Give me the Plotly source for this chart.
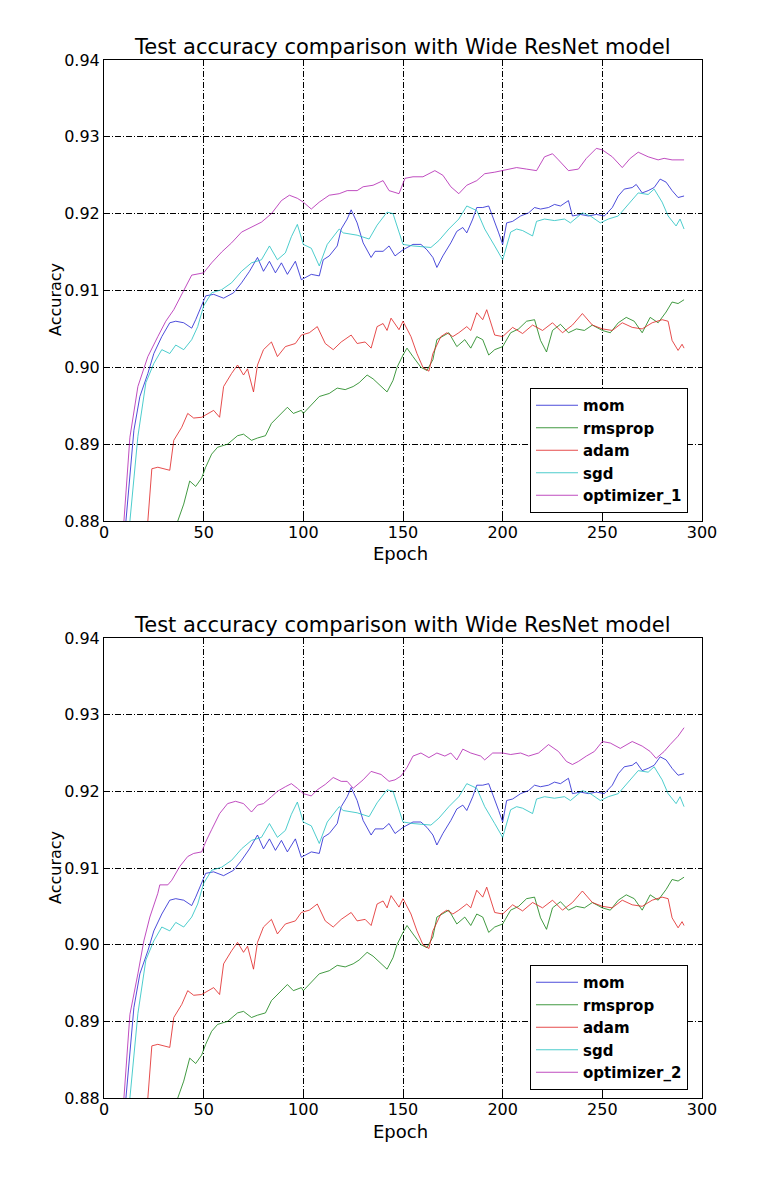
import plotly.graph_objects as go

# ---------------- data ----------------
mom_epoch = [11, 15, 18, 22, 25, 29, 33, 36, 40, 44, 46, 49, 51, 55, 60, 65, 69, 73, 77, 80, 83, 86, 89, 92, 96, 99,
             104, 108, 110, 113, 117, 119, 122, 124, 127, 130, 134, 136, 140, 143, 146, 150, 155, 159, 162, 165, 167,
             170, 174, 177, 180, 182, 185, 187, 190, 193, 195, 198, 200, 202, 205, 209, 213, 216, 219, 223, 226, 229,
             233, 235, 239, 243, 247, 251, 255, 258, 261, 265, 267, 270, 273, 276, 279, 282, 285, 288, 291]
mom_acc = [0.880, 0.8918, 0.8962, 0.8992, 0.9018, 0.904, 0.9058, 0.906, 0.9058, 0.9051, 0.9062, 0.908, 0.9093, 0.9095,
           0.909, 0.9097, 0.911, 0.9125, 0.9143, 0.9125, 0.9138, 0.9123, 0.9136, 0.9121, 0.9138, 0.9114,
           0.9121, 0.9119, 0.914, 0.9145, 0.9158, 0.918, 0.9193, 0.9205, 0.9188, 0.9162, 0.9143, 0.9151, 0.9151,
           0.9158, 0.9145, 0.9153, 0.916, 0.916, 0.9153, 0.9143, 0.913, 0.9145, 0.9162, 0.9177, 0.9182, 0.9175,
           0.9193, 0.9208, 0.9208, 0.921, 0.9197, 0.9175, 0.916, 0.9188, 0.919, 0.9197, 0.9201, 0.9208, 0.9206,
           0.9208, 0.9212, 0.921, 0.9217, 0.9197, 0.9199, 0.9197, 0.9199, 0.9197, 0.9208, 0.9223, 0.9232, 0.9234,
           0.9238, 0.9227, 0.923, 0.9234, 0.9245, 0.9241, 0.923, 0.9221, 0.9223]

rmsprop_epoch = [37, 40, 43, 46, 49, 51, 54, 57, 62, 67, 70, 74, 77, 81, 84, 87, 92, 95, 99, 100, 105, 108, 113, 117,
                 121, 125, 128, 132, 135, 139, 142, 145, 147, 150, 152, 155, 159, 162, 165, 167, 170, 173, 177, 181,
                 184, 187, 190, 193, 196, 200, 204, 208, 212, 216, 219, 222, 225, 229, 233, 237, 241, 245, 250, 254,
                 258, 262, 266, 270, 274, 278, 282, 285, 288, 291]
rmsprop_acc = [0.880, 0.8822, 0.8852, 0.8845, 0.8856, 0.887, 0.8887, 0.8896, 0.890, 0.8911, 0.8913, 0.8905, 0.8908,
               0.8911, 0.8927, 0.8935, 0.8948, 0.894, 0.8944, 0.894, 0.8953, 0.8962, 0.8966, 0.8973, 0.8971, 0.8975,
               0.898, 0.899, 0.8985, 0.8975, 0.8968, 0.8983, 0.900, 0.9016, 0.9025, 0.9014, 0.900, 0.8996, 0.901,
               0.9036, 0.904, 0.9045, 0.9027, 0.9036, 0.9025, 0.904, 0.9036, 0.9016, 0.9023, 0.9027, 0.9045, 0.905,
               0.906, 0.9062, 0.9035, 0.902, 0.9048, 0.9056, 0.9045, 0.905, 0.9048, 0.9055, 0.9048, 0.9045, 0.9058,
               0.9065, 0.906, 0.9045, 0.9065, 0.9058, 0.9072, 0.9085, 0.9083, 0.9088]

adam_epoch = [22, 24, 27, 33, 35, 39, 42, 45, 49, 52, 55, 58, 60, 64, 67, 70, 72, 75, 77, 80, 84, 87, 91, 96, 99,
              103, 107, 111, 115, 119, 124, 127, 131, 134, 137, 140, 142, 144, 148, 150, 154, 157, 160, 163, 165,
              169, 172, 175, 178, 182, 184, 187, 190, 192, 194, 196, 200, 205, 210, 215, 220, 225, 230, 235, 240,
              245, 250, 255, 260, 265, 270, 275, 280, 283, 285, 288, 290, 291]
adam_acc = [0.880, 0.8868, 0.887, 0.8866, 0.8905, 0.8922, 0.894, 0.8934, 0.8935, 0.894, 0.8944, 0.8935, 0.8975, 0.8992,
            0.9003, 0.899, 0.8998, 0.8968, 0.9003, 0.9023, 0.9033, 0.9014, 0.9027, 0.9031, 0.9042,
            0.9045, 0.9053, 0.9031, 0.9023, 0.9033, 0.9042, 0.9031, 0.9033, 0.9025, 0.9053, 0.9057, 0.9048, 0.9064,
            0.9049, 0.906, 0.904, 0.9018, 0.900, 0.8995, 0.9018, 0.904, 0.9045, 0.904, 0.9045, 0.9053, 0.9048,
            0.9071, 0.9062, 0.9075, 0.9058, 0.9042, 0.904, 0.9052, 0.9044, 0.9055, 0.9048, 0.9058, 0.9045, 0.9055,
            0.907, 0.9055, 0.905, 0.9048, 0.9058, 0.9052, 0.905, 0.9058, 0.9062, 0.906, 0.9035, 0.9022, 0.903, 0.9025]

sgd_epoch = [13, 17, 21, 25, 29, 33, 36, 40, 44, 47, 50, 54, 59, 64, 69, 74, 79, 83, 87, 91, 94, 97, 100, 104, 108,
             112, 118, 120, 127, 133, 137, 142, 145, 150, 155, 164, 168, 173, 178, 182, 187, 191, 196, 200, 201, 204,
             207, 210, 215, 217, 221, 226, 231, 234, 240, 244, 249, 253, 258, 263, 268, 273, 276, 280, 283, 287, 289,
             291]
sgd_acc = [0.880, 0.891, 0.898, 0.9005, 0.9023, 0.9018, 0.9029, 0.9023, 0.9036, 0.9053, 0.908, 0.9097, 0.9101, 0.911,
           0.9125, 0.9136, 0.914, 0.9158, 0.914, 0.9149, 0.917, 0.9186, 0.916, 0.9155, 0.9132, 0.916, 0.918, 0.9175,
           0.9172, 0.9167, 0.9185, 0.9202, 0.920, 0.916, 0.9158, 0.9156, 0.9165, 0.918, 0.9193, 0.921, 0.9204, 0.918,
           0.9158, 0.914, 0.9149, 0.9176, 0.918, 0.9178, 0.9171, 0.919, 0.9193, 0.9191, 0.9193, 0.9188, 0.9201,
           0.9197, 0.9188, 0.9193, 0.9197, 0.9212, 0.9227, 0.9225, 0.9232, 0.9215, 0.9197, 0.9184, 0.9193, 0.918]

opt1_epoch = [10, 13, 17, 22, 27, 31, 35, 41, 44, 50, 54, 59, 64, 69, 74, 79, 84, 89, 93, 97, 100, 104, 108, 113, 118,
              122, 127, 130, 135, 140, 143, 148, 151, 155, 160, 166, 170, 174, 178, 182, 187, 191, 196, 200, 207, 212,
              217, 221, 225, 228, 233, 238, 242, 247, 250, 255, 260, 264, 268, 273, 278, 281, 285, 291]
opt1_acc = [0.880, 0.8909, 0.8975, 0.9014, 0.904, 0.906, 0.9075, 0.9104, 0.912, 0.9123, 0.9136, 0.915, 0.9162, 0.9176,
            0.9182, 0.9189, 0.920, 0.9217, 0.9224, 0.922, 0.9215, 0.9206, 0.9215, 0.9224, 0.9226, 0.923, 0.923,
            0.9235, 0.9237, 0.9243, 0.923, 0.9226, 0.9246, 0.9248, 0.9248, 0.9256, 0.925, 0.9235, 0.9226, 0.9237,
            0.9243, 0.9252, 0.9254, 0.9256, 0.926, 0.9258, 0.9256, 0.9274, 0.9278, 0.927, 0.9256, 0.9258, 0.9272,
            0.9285, 0.9283, 0.9274, 0.926, 0.9272, 0.928, 0.9274, 0.927, 0.9272, 0.927, 0.927]

opt2_epoch = [10, 13, 17, 20, 23, 27, 28, 32, 34, 38, 42, 45, 49, 51, 54, 58, 62, 66, 70, 74, 77, 80, 84, 87, 91, 94,
              97, 100, 104, 107, 111, 115, 119, 122, 125, 130, 134, 139, 143, 146, 149, 152, 155, 159, 163, 167, 171,
              174, 177, 180, 184, 189, 191, 195, 200, 204, 209, 213, 218, 223, 228, 232, 235, 238, 242, 246, 250, 254,
              259, 262, 265, 270, 274, 277, 281, 284, 288, 291]
opt2_acc = [0.880, 0.8909, 0.8962, 0.9005, 0.9036, 0.9067, 0.9078, 0.9078, 0.9084, 0.9102, 0.9115, 0.9119, 0.9121,
            0.9134, 0.915, 0.9171, 0.9184, 0.9187, 0.9184, 0.9173, 0.9182, 0.9184, 0.9193, 0.920, 0.9206, 0.921,
            0.9204, 0.9197, 0.9194, 0.9202, 0.9209, 0.9218, 0.9213, 0.9213, 0.9204, 0.9215, 0.9226, 0.9222, 0.9213,
            0.9215, 0.922, 0.9231, 0.9246, 0.925, 0.9244, 0.925, 0.9246, 0.925, 0.9241, 0.9255, 0.925, 0.9246,
            0.9241, 0.925, 0.925, 0.9248, 0.925, 0.9246, 0.925, 0.9261, 0.9252, 0.9239, 0.9235, 0.9239, 0.9246,
            0.9252, 0.9265, 0.9263, 0.9256, 0.9261, 0.9265, 0.9259, 0.9252, 0.9243, 0.9252, 0.9261, 0.9272, 0.9283]

series_names = ["mom", "rmsprop", "adam", "sgd"]
chart_title = "Test accuracy comparison with Wide ResNet model"
x_label = "Epoch"
y_label = "Accuracy"
x_ticks = [0, 50, 100, 150, 200, 250, 300]
y_ticks = [0.88, 0.89, 0.90, 0.91, 0.92, 0.93, 0.94]

# ---------------- styling ----------------
colors = {"mom": "#1f1fd0", "rmsprop": "#118011", "adam": "#e02020", "sgd": "#20c0c0", "opt": "#b020b0"}
FONT = "DejaVu Sans"
LW = 0.8

shared = [(mom_epoch, mom_acc, "mom"), (rmsprop_epoch, rmsprop_acc, "rmsprop"),
          (adam_epoch, adam_acc, "adam"), (sgd_epoch, sgd_acc, "sgd")]

fig = go.Figure()
panels = [("x", "y", "legend", opt1_epoch, opt1_acc, "optimizer_1"),
          ("x2", "y2", "legend2", opt2_epoch, opt2_acc, "optimizer_2")]
for xa, ya, lg, oe, oa, oname in panels:
    for ep, acc, nm in shared:
        fig.add_trace(go.Scatter(x=ep, y=acc, mode="lines", name=nm, xaxis=xa, yaxis=ya, legend=lg,
                                 line=dict(color=colors[nm], width=LW)))
    fig.add_trace(go.Scatter(x=oe, y=oa, mode="lines", name=oname, xaxis=xa, yaxis=ya, legend=lg,
                             line=dict(color=colors["opt"], width=LW)))

W, H = 778, 1184
OFF = 8  # page body margin in the browser


def px_x(p):
    return (p - OFF) / W


def px_y(p):
    return 1 - (p - OFF) / H


xdom = [px_x(104), px_x(702)]
ydom1 = [px_y(521), px_y(60)]
ydom2 = [px_y(1098), px_y(638)]

grid_dash = "6px,2px,1px,2px"
common_x = dict(range=[0, 300], tickvals=x_ticks, showline=True, mirror=True, linecolor="black", linewidth=1,
                ticks="inside", ticklen=5, tickcolor="black", showgrid=True, gridcolor="black", gridwidth=1,
                griddash=grid_dash, zeroline=False, automargin=False, ticklabelstandoff=-3,
                tickfont=dict(size=16, family=FONT, color="black"))
common_y = dict(range=[0.88, 0.94], tickvals=y_ticks, tickformat=".2f", showline=True, mirror=True,
                linecolor="black", linewidth=1, ticks="inside", ticklen=5, tickcolor="black", showgrid=True,
                gridcolor="black", gridwidth=1, griddash=grid_dash, zeroline=False, automargin=False,
                tickfont=dict(size=16, family=FONT, color="black"))

legend_common = dict(xanchor="right", yanchor="bottom", bordercolor="black", borderwidth=1, bgcolor="white",
                     itemwidth=42, font=dict(size=15, family=FONT, color="black", weight="bold"), tracegroupgap=0)

anns = []
for top_px, xlab_px, ylab_px in [(60, 553, 300), (638, 1131, 868)]:
    anns.append(dict(text=chart_title, x=px_x(402), y=px_y(top_px), xref="paper", yref="paper",
                     xanchor="center", yanchor="bottom", yshift=-1, showarrow=False,
                     font=dict(size=21, family=FONT, color="black")))
    anns.append(dict(text=x_label, x=px_x(400), y=px_y(xlab_px), xref="paper", yref="paper",
                     xanchor="center", yanchor="middle", showarrow=False,
                     font=dict(size=18, family=FONT, color="black")))
    anns.append(dict(text=y_label, x=px_x(55), y=px_y(ylab_px), xref="paper", yref="paper",
                     xanchor="center", yanchor="middle", textangle=-90, showarrow=False,
                     font=dict(size=16, family=FONT, color="black")))

fig.update_layout(
    width=W, height=H, autosize=False, paper_bgcolor="white", plot_bgcolor="white",
    margin=dict(l=0, r=0, t=0, b=0, pad=0, autoexpand=False),
    xaxis=dict(domain=xdom, anchor="y", **common_x),
    yaxis=dict(domain=ydom1, anchor="x", **common_y),
    xaxis2=dict(domain=xdom, anchor="y2", **common_x),
    yaxis2=dict(domain=ydom2, anchor="x2", **common_y),
    legend=dict(x=px_x(688), y=px_y(513), **legend_common),
    legend2=dict(x=px_x(688), y=px_y(1090), **legend_common),
    annotations=anns,
)

fig.write_html("out.html")
